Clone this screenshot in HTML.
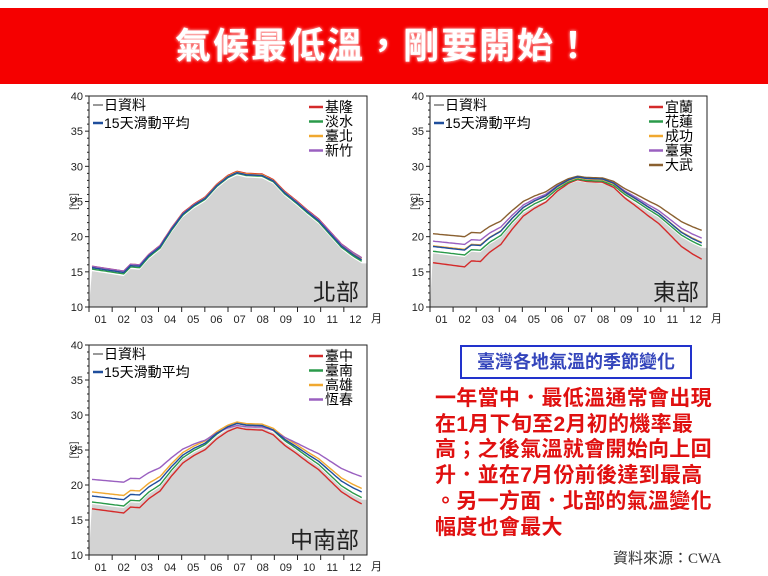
<!DOCTYPE html>
<html><head><meta charset="utf-8"><style>
body{margin:0;width:768px;height:576px;background:#fff;overflow:hidden;position:relative;font-family:"Liberation Sans","Noto Sans CJK TC",sans-serif}
.band{position:absolute;left:0;top:8px;width:768px;height:76px;background:#f50000}
.title{position:absolute;left:0;top:8px;width:768px;height:76px;line-height:76px;text-align:center;color:#fff;font-size:36px;font-weight:bold;letter-spacing:2px;text-shadow:0 0 3px #fff}
svg{position:absolute;left:0;top:0}
.box{position:absolute;left:460px;top:345px;width:228px;height:30px;border:2px solid #2233cc;color:#3344bb;font-size:18px;line-height:30px;text-align:center;font-weight:bold}
.txt{position:absolute;left:435px;top:386px;width:330px;color:#e01010;font-size:21px;line-height:25.7px;font-weight:bold;letter-spacing:0.3px;white-space:nowrap}
.src{position:absolute;left:613px;top:547px;font-size:15px;color:#333;font-family:"Liberation Serif","Noto Sans CJK TC",serif}
</style></head><body>
<div class="band"></div><div class="title">氣候最低溫，剛要開始！</div>
<svg id="s" width="768" height="576" font-family="Liberation Sans, Noto Sans CJK TC, sans-serif"></svg>
<div class="box">臺灣各地氣溫的季節變化</div>
<div class="txt">一年當中．最低溫通常會出現<br>在1月下旬至2月初的機率最<br>高；之後氣溫就會開始向上回<br>升．並在7月份前後達到最高<br>。另一方面．北部的氣溫變化<br>幅度也會最大</div>
<div class="src">資料來源：CWA</div>
<script>
var s=document.getElementById('s'),h='';
var K=[[0,15.5],[0.8,15.1],[1.4,14.8],[1.7,15.8],[2.1,15.7],[2.5,17.2],[3,18.5],[3.5,21],[4,23.2],[4.5,24.5],[5,25.5],[5.5,27.3],[6,28.6],[6.4,29.2],[6.8,28.9],[7.5,28.8],[8,28],[8.5,26.3],[9,25],[9.5,23.6],[10,22.3],[10.5,20.5],[11,18.7],[11.5,17.5],[11.9,16.7]];
function nv(t){for(var i=1;i<K.length;i++)if(t<=K[i][0]){var a=K[i-1],b=K[i];return a[1]+(b[1]-a[1])*(t-a[0])/(b[0]-a[0]);}return K[K.length-1][1];}
function tr(t,a,e,pk){var n=nv(t);if(t<6.4){var f=(n-14.8)/(29.2-14.8);return a+(pk-a)*f;}var f=(n-16.7)/(29.2-16.7);return e+(pk-e)*f;}
function chart(L,R,T,B,name,leg,series){
 var yv=function(v){return B-(v-10)*(B-T)/30},xv=function(t){return L+3+t*(R-L-6)/12};
 var p='M'+L+','+B;for(var t=0;t<=12;t+=0.1)p+=' L'+xv(Math.min(t,11.9)).toFixed(1)+','+yv(series[1].f(Math.min(t,11.9))-0.3).toFixed(1);
 h+='<path d="'+p+' L'+R+','+yv(series[1].f(11.9)-0.3)+' L'+R+','+B+'Z" fill="#d3d3d3"/>';
 series.forEach(function(sr){var q='';for(var t=0;t<=11.9;t+=0.1)q+=(q?' L':'M')+xv(t).toFixed(1)+','+yv(sr.f(t)).toFixed(1);h+='<path d="'+q+'" fill="none" stroke="'+sr.c+'" stroke-width="1.4"/>';});
 h+='<rect x="'+L+'" y="'+T+'" width="'+(R-L)+'" height="'+(B-T)+'" fill="none" stroke="#222" stroke-width="1"/>';
 for(var v=10;v<=40;v+=1){var y=yv(v);h+='<line x1="'+(L-(v%5?2:4))+'" x2="'+L+'" y1="'+y+'" y2="'+y+'" stroke="#222"/>';if(v%5==0)h+='<text x="'+(L-6)+'" y="'+(y+4)+'" font-size="11" text-anchor="end" fill="#222">'+v+'</text>';}
 var mw=(R-L)/12;for(var m=0;m<12;m++){var x=L+mw*m;h+='<line x1="'+x+'" x2="'+x+'" y1="'+B+'" y2="'+(B+5)+'" stroke="#222"/>';h+='<text x="'+(x+mw/2)+'" y="'+(B+16)+'" font-size="11" text-anchor="middle" fill="#222">'+(m<9?'0':'')+(m+1)+'</text>';}
 h+='<text x="'+(R+4)+'" y="'+(B+15)+'" font-size="11" fill="#222">月</text>';
 h+='<text x="'+(L-12)+'" y="'+((T+B)/2)+'" font-size="10" fill="#222" transform="rotate(-90 '+(L-12)+' '+((T+B)/2)+')" text-anchor="middle">[°C]</text>';
 h+='<line x1="'+(L+4)+'" x2="'+(L+14)+'" y1="'+(T+9)+'" y2="'+(T+9)+'" stroke="#999" stroke-width="2"/><text x="'+(L+15)+'" y="'+(T+14)+'" font-size="14">日資料</text>';
 h+='<line x1="'+(L+4)+'" x2="'+(L+14)+'" y1="'+(T+27)+'" y2="'+(T+27)+'" stroke="#1f4e9c" stroke-width="2.5"/><text x="'+(L+15)+'" y="'+(T+32)+'" font-size="14">15天滑動平均</text>';
 leg.forEach(function(l,i){var y=T+16+i*14.5;h+='<line x1="'+(R-58)+'" x2="'+(R-44)+'" y1="'+(y-5)+'" y2="'+(y-5)+'" stroke="'+l[1]+'" stroke-width="2.5"/><text x="'+(R-42)+'" y="'+y+'" font-size="14">'+l[0]+'</text>';});
 h+='<text x="'+(R-8)+'" y="'+(B-7)+'" font-size="23" text-anchor="end" fill="#222">'+name+'</text>';
}
function S(a,e,pk,c){return{f:function(t){return tr(t,a,e,pk)},c:c}}
var R='#d42a2a',G='#2a9a4a',O='#f0a830',P='#9a60c0',BR='#8a6030',BL='#1f4e9c';
chart(89,367,96,307,'北部',[['基隆',R],['淡水',G],['臺北',O],['新竹',P]],
 [S(15.1,17,29.3,R),S(14.7,16.5,29,G),S(15,16.9,29.2,O),S(15.1,17,29.1,P),S(14.9,16.7,29.1,BL)]);
chart(430,707,96,307,'東部',[['宜蘭',R],['花蓮',G],['成功',O],['臺東',P],['大武',BR]],
 [S(15.7,16.8,28.1,R),S(17.4,18.7,28.2,G),S(18.2,19.2,28.4,O),S(18.9,19.8,28.5,P),S(20,20.9,28.6,BR),S(18.1,19.1,28.5,BL)]);
chart(89,367,345,555,'中南部',[['臺中',R],['臺南',G],['高雄',O],['恆春',P]],
 [S(16,17.3,28.2,R),S(17,18.2,28.8,G),S(18.5,19.5,29,O),S(20.4,21.2,28.5,P),S(17.9,19,28.8,BL)]);
s.innerHTML=h;
</script>
</body></html>
